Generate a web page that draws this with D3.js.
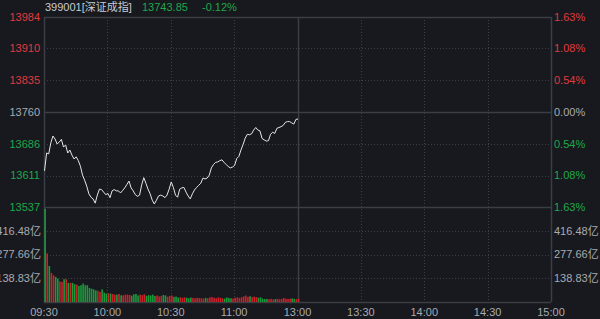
<!DOCTYPE html>
<html>
<head>
<meta charset="utf-8">
<script src="https://cdn.jsdelivr.net/npm/d3@7"></script>
<style>
  html, body { margin: 0; padding: 0; background: #17191e; }
  svg { display: block; }
  text { font-family: "Liberation Sans", Arial, "Noto Sans CJK SC", sans-serif; font-size: 11px; }
</style>
</head>
<body>
<svg id="chart" width="600" height="319"></svg>
<script>
// Index info
var indexCode = "399001[深证成指]"
var lastPrice = "13743.85"
var lastPct = "-0.12%"
var prevClose = 13760

// Time axis (minutes from 09:30, lunch break squeezed out)
var timeTicks = [0, 30, 60, 90, 120, 150, 180, 210, 240]
var timeLabels = ["09:30", "10:00", "10:30", "11:00", "13:00", "13:30", "14:00", "14:30", "15:00"]

// Price axis labels
var priceTicks = [13984, 13910, 13835, 13760, 13686, 13611, 13537]
var pctLabels = ["1.63%", "1.08%", "0.54%", "0.00%", "0.54%", "1.08%", "1.63%"]

// Volume axis labels (亿)
var volMax = 555.32
var volTicks = [416.48, 277.66, 138.83]

// One price per minute, 09:30 .. 11:30
var prices = [
  13622, 13664, 13662, 13688, 13704, 13697, 13685, 13690, 13696, 13678,
  13683, 13664, 13671, 13659, 13650, 13655, 13646, 13633, 13612, 13600,
  13586, 13568, 13560, 13556, 13546, 13565, 13579, 13578, 13572, 13566,
  13569, 13559, 13575, 13578, 13575, 13575, 13570, 13576, 13582, 13590,
  13598, 13582, 13575, 13566, 13562, 13565, 13589, 13606, 13593, 13579,
  13568, 13553, 13544, 13553, 13563, 13565, 13563, 13559, 13565, 13579,
  13596, 13583, 13565, 13560, 13579, 13582, 13583, 13572, 13563, 13556,
  13568, 13577, 13583, 13588, 13593, 13605, 13603, 13605, 13612, 13629,
  13637, 13642, 13643, 13646, 13648, 13642, 13637, 13632, 13629, 13631,
  13635, 13651, 13656, 13671, 13684, 13699, 13708, 13707, 13709, 13718,
  13724, 13718, 13716, 13698, 13695, 13692, 13693, 13708, 13713, 13710,
  13722, 13724, 13726, 13729, 13736, 13738, 13738, 13735, 13732, 13743,
  13744
]

// Volume per minute (亿)
var volumes = [
  545, 284, 211, 170, 156, 147, 137, 121, 117, 133,
  133, 111, 112, 112, 104, 102, 94, 98, 108, 98,
  98, 82, 78, 74, 68, 66, 59, 74, 55, 49,
  51, 49, 47, 43, 43, 47, 39, 39, 43, 43,
  41, 37, 45, 47, 38, 43, 40, 45, 36, 40,
  38, 43, 35, 38, 33, 36, 41, 38, 31, 36,
  38, 30, 32, 26, 28, 24, 27, 25, 22, 26,
  24, 21, 25, 23, 22, 20, 24, 22, 27, 29,
  25, 22, 27, 24, 21, 20, 26, 24, 22, 20,
  25, 27, 24, 28, 33, 38, 30, 34, 29, 31,
  28, 25, 27, 19, 17, 18, 16, 18, 15, 17,
  19, 16, 18, 23, 20, 17, 19, 21, 18, 16,
  20
]

var left = 44, right = 551
var priceTop = 17, priceBottom = 207
var volTop = 207, volBottom = 302

var red = "#e0393e", green = "#1fa84a", grey = "#a9abb0"
var frame = "#3b3e45"

var svg = d3.select("#chart")

var x = d3.scaleLinear().domain([0, 240]).range([left, right])
var y = d3.scaleLinear().domain([priceTicks[6], priceTicks[0]]).range([priceBottom, priceTop])
var v = d3.scaleLinear().domain([0, volMax]).range([volBottom, volTop])

// Grid - dotted
var grid = svg.append("g")
priceTicks.forEach(function (t, i) {
    if (i == 0 || i == 3 || i == 6) return
    grid.append("line")
        .attr("x1", left).attr("x2", right)
        .attr("y1", Math.round(y(t)) + 0.5).attr("y2", Math.round(y(t)) + 0.5)
        .attr("stroke", frame).attr("stroke-dasharray", "1,2")
})
volTicks.forEach(function (t) {
    grid.append("line")
        .attr("x1", left).attr("x2", right)
        .attr("y1", Math.round(v(t)) + 0.5).attr("y2", Math.round(v(t)) + 0.5)
        .attr("stroke", frame).attr("stroke-dasharray", "1,2")
})
timeTicks.forEach(function (t, i) {
    if (i == 0 || i == 4 || i == 8) return
    grid.append("line")
        .attr("x1", Math.round(x(t)) + 0.5).attr("x2", Math.round(x(t)) + 0.5)
        .attr("y1", priceTop).attr("y2", volBottom)
        .attr("stroke", frame).attr("stroke-dasharray", "1,2")
})

// Solid lines: frame, zero line, midday line
var solidH = [priceTop, y(prevClose), priceBottom, volBottom]
solidH.forEach(function (py) {
    grid.append("line")
        .attr("x1", left).attr("x2", right)
        .attr("y1", Math.round(py) + 0.5).attr("y2", Math.round(py) + 0.5)
        .attr("stroke", frame).attr("stroke-width", 1.5)
})
var solidV = [0, 120, 240]
solidV.forEach(function (t) {
    grid.append("line")
        .attr("x1", Math.round(x(t)) + 0.5).attr("x2", Math.round(x(t)) + 0.5)
        .attr("y1", priceTop).attr("y2", volBottom)
        .attr("stroke", frame).attr("stroke-width", 1.5)
})

// Volume bars - red when the minute closed up, green when down
svg.append("g").selectAll("rect")
    .data(volumes)
    .enter()
    .append("rect")
    .attr("x", function (d, i) { return x(i) + 0.3 })
    .attr("width", 1.6)
    .attr("y", function (d) { return v(d) })
    .attr("height", function (d) { return volBottom - v(d) })
    .attr("fill", function (d, i) {
        var before = i == 0 ? prevClose : prices[i - 1]
        return prices[i] >= before ? "#c8232b" : "#1b9a3c"
    })

// Price line
var line = d3.line()
    .x(function (d, i) { return x(i) + 0.5 })
    .y(function (d) { return y(d) })

svg.append("path")
    .datum(prices)
    .attr("d", line)
    .attr("fill", "none")
    .attr("stroke", "#e6e6e6")
    .attr("stroke-width", 1)

// Left / right price labels
priceTicks.forEach(function (t, i) {
    var col = i < 3 ? red : (i == 3 ? grey : green)
    svg.append("text")
        .attr("x", left - 4).attr("y", y(t)).attr("dy", "0.35em")
        .attr("text-anchor", "end").attr("fill", col)
        .text(t)
    svg.append("text")
        .attr("x", right + 3).attr("y", y(t)).attr("dy", "0.35em")
        .attr("fill", col)
        .text(pctLabels[i])
})

// Volume labels
volTicks.forEach(function (t) {
    svg.append("text")
        .attr("x", left - 3).attr("y", v(t)).attr("dy", "0.35em")
        .attr("text-anchor", "end").attr("fill", grey)
        .text(t.toFixed(2) + "亿")
    svg.append("text")
        .attr("x", right + 3).attr("y", v(t)).attr("dy", "0.35em")
        .attr("fill", grey)
        .text(t.toFixed(2) + "亿")
})

// Time labels
timeTicks.forEach(function (t, i) {
    svg.append("text")
        .attr("x", x(t)).attr("y", 312).attr("dy", "0.35em")
        .attr("text-anchor", "middle").attr("fill", grey)
        .text(timeLabels[i])
})

// Header
var head = svg.append("text").attr("x", 45).attr("y", 7).attr("dy", "0.35em")
head.append("tspan").attr("fill", "#c9cbd0").text(indexCode)
head.append("tspan").attr("x", 142).attr("fill", green).text(lastPrice)
head.append("tspan").attr("x", 202).attr("fill", green).text(lastPct)
</script>
</body>
</html>
